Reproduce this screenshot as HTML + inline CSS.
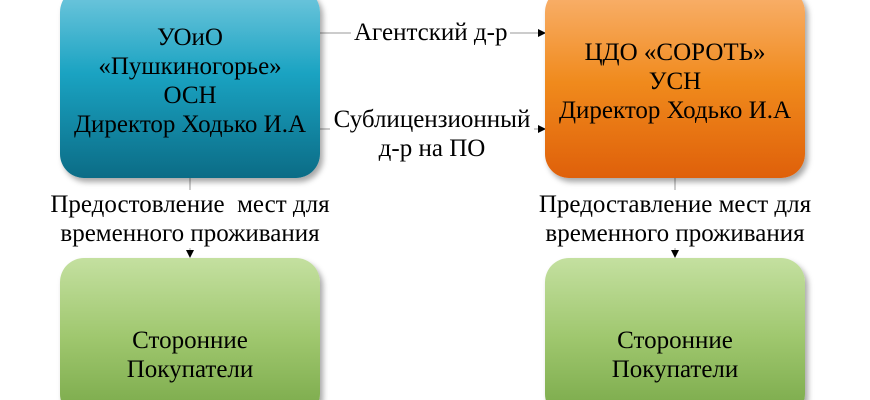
<!DOCTYPE html>
<html><head><meta charset="utf-8"><style>
html,body{margin:0;width:870px;height:400px;overflow:hidden}
body{background:#fff;position:relative;font-family:"Liberation Serif",serif;color:#000}
.b{position:absolute;border-radius:24px;box-shadow:3px 4px 6px rgba(0,0,0,.35);display:flex;align-items:center;justify-content:center;text-align:center;font-size:25px;line-height:29px}
.t{position:absolute;font-size:25px;line-height:29px;text-align:center;background:#fff;white-space:nowrap}
</style></head><body>
<svg width="870" height="400" style="position:absolute;left:0;top:0">
<g stroke="#999" stroke-width="1" fill="none">
<line x1="320" y1="33" x2="538" y2="33"/>
<line x1="320" y1="129" x2="538" y2="129"/>
<line x1="190" y1="178" x2="190" y2="250"/>
<line x1="675" y1="178" x2="675" y2="250"/>
</g>
<g fill="#000">
<polygon points="538,29 546,33 538,37"/>
<polygon points="538,125 546,129 538,133"/>
<polygon points="186,250 194,250 190,258"/>
<polygon points="671,250 679,250 675,258"/>
</g>
</svg>
<div class="b" style="left:60px;top:-12px;width:260px;height:190px;background:linear-gradient(#73c8de,#1aa3c2 45%,#0b6c86)"><div style="margin-top:-4px">УОиО<br>«Пушкиногорье»<br>ОСН<br>Директор Ходько И.А</div></div>
<div class="b" style="left:545px;top:-12px;width:260px;height:190px;background:linear-gradient(#f9b270,#f08a1c 50%,#df600a)"><div style="margin-top:-4px">ЦДО «СОРОТЬ»<br>УСН<br>Директор Ходько И.А</div></div>
<div class="b" style="left:60px;top:258px;width:260px;height:160px;background:linear-gradient(#c4e0a0,#9fc76e 50%,#78a848)"><div style="margin-top:34px">Сторонние<br>Покупатели</div></div>
<div class="b" style="left:545px;top:258px;width:260px;height:160px;background:linear-gradient(#c4e0a0,#9fc76e 50%,#78a848)"><div style="margin-top:34px">Сторонние<br>Покупатели</div></div>
<div class="t" style="left:351px;top:18px;padding:0 3px">Агентский д-р</div>
<div class="t" style="left:330px;top:105px;width:204px">Сублицензионный<br>д-р на ПО</div>
<div class="t" style="left:30px;top:190px;width:320px">Предостовление&nbsp; мест для<br>временного проживания</div>
<div class="t" style="left:515px;top:190px;width:320px">Предоставление мест для<br>временного проживания</div>
</body></html>
